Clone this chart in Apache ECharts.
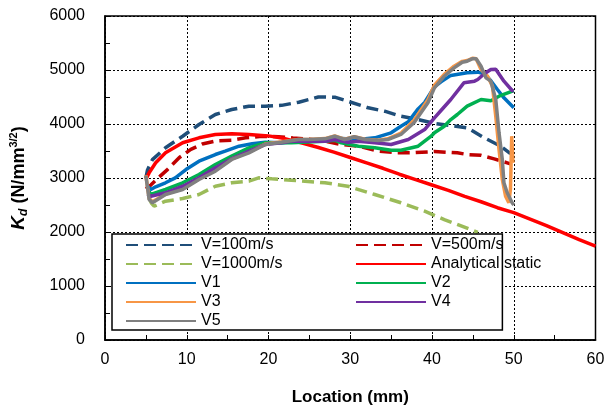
<!DOCTYPE html>
<html>
<head>
<meta charset="utf-8">
<script src="https://cdn.jsdelivr.net/npm/echarts@6/dist/echarts.min.js"></script>
<style>
html,body{margin:0;padding:0;background:#fff;}
#chart{width:608px;height:412px;}
</style>
</head>
<body>
<div id="chart"></div>
<script>
// ---------- data ----------
var xTicks = [0, 10, 20, 30, 40, 50, 60];
var yTicks = [0, 1000, 2000, 3000, 4000, 5000, 6000];

var seriesNames = ['V=100m/s', 'V=500m/s', 'V=1000m/s', 'Analytical static', 'V1', 'V2', 'V3', 'V4', 'V5'];

var v100 = [[5,3000],[5.2,3150],[5.8,3340],[7.4,3560],[9.5,3774],[11.5,3991],[13.5,4176],[15.5,4268],[17.6,4330],[19.6,4330],[21.6,4345],[23.7,4404],[26.1,4500],[28.1,4497],[29.7,4422],[32.2,4300],[34.2,4237],[36.2,4144],[38.3,4083],[40.3,4009],[42.3,3972],[44.3,3930],[46.4,3744],[48.4,3589],[49.6,3450]];

var v500 = [[5,2800],[5.6,2870],[6.5,3000],[7.6,3150],[9.1,3380],[10.5,3530],[11.9,3630],[13.7,3690],[15.5,3700],[17.2,3744],[19.2,3774],[21.2,3763],[23,3740],[25,3720],[27,3680],[28.9,3620],[31,3589],[33.4,3500],[35.8,3466],[38,3470],[40.3,3490],[43.1,3466],[44.3,3435],[46,3420],[47.6,3355],[49.2,3281],[49.6,3260]];

// visible part only (the rest is hidden behind the legend in the reference)
var v1000 = [[5.4,2620],[5.7,2530],[6,2478],[7.4,2570],[9.5,2620],[11.5,2694],[13.5,2848],[15.5,2911],[17.6,2941],[18.8,3003],[20.4,2985],[22.8,2960],[26.9,2911],[29.7,2848],[33,2694],[36.2,2541],[39.1,2385],[41.5,2231],[45.6,1995]];

var analytical = [[5,2980],[5.4,3096],[6.2,3281],[7.4,3466],[9.5,3652],[11.5,3744],[13.5,3806],[15.5,3818],[17.6,3806],[20,3780],[22,3730],[24,3650],[26,3570],[28,3480],[30,3380],[32,3280],[34,3180],[36,3070],[38,2970],[40,2870],[42,2770],[44,2660],[46,2560],[48,2450],[50,2360],[52,2240],[54,2120],[56,1990],[58,1860],[60,1740]];

var v1 = [[5.2,2850],[5.6,2787],[6.2,2837],[7.4,2911],[8.6,3003],[9.9,3157],[11.5,3311],[13.5,3435],[14.7,3496],[16.4,3589],[18,3633],[19.6,3663],[21.6,3652],[23.7,3680],[26.9,3700],[29,3730],[31,3713],[33,3744],[35,3837],[36.2,3959],[37.1,4040],[38.3,4280],[39.1,4400],[40.3,4690],[41.1,4780],[42.3,4900],[44.3,4948],[45.6,4960],[46.4,4930],[47.2,4800],[48,4639],[48.8,4485],[50,4300]];

var v2 = [[5.4,2750],[5.6,2694],[7.4,2787],[9.5,2911],[11.5,3065],[13.5,3250],[15.5,3404],[17.6,3559],[19.6,3652],[21.6,3652],[22.8,3651],[26.9,3681],[28.1,3700],[28.9,3651],[31,3589],[33,3559],[35,3515],[36.2,3515],[38.3,3589],[39.9,3774],[40.3,3837],[41.5,3959],[42.3,4083],[43.1,4176],[44.3,4330],[46,4454],[47.2,4430],[48.2,4515],[50,4620]];

var v3 = [[5,3050],[5.4,2620],[5.8,2560],[7.4,2700],[9.5,2800],[11.5,2985],[13.5,3140],[15.5,3355],[17.6,3480],[19.6,3630],[21.6,3670],[23.7,3715],[24.9,3715],[26.9,3730],[28.1,3780],[29.3,3720],[30.5,3765],[31.8,3720],[33.4,3700],[34.6,3725],[36.2,3830],[37.8,4070],[39.5,4450],[40.3,4720],[41.5,4920],[42.7,5070],[43.7,5160],[44.3,5175],[45,5220],[45.4,5210],[46,5010],[46.8,4885],[47.4,4700],[47.8,4144],[48.2,3528],[48.6,2972],[49,2663],[49.4,2541],[49.6,2800],[49.75,3774],[49.9,3281]];

var v4 = [[5.2,2700],[5.6,2663],[7.4,2726],[9.5,2848],[11.5,3003],[13.5,3189],[15.5,3355],[17.6,3496],[19.6,3620],[21.6,3652],[22.8,3681],[26.9,3681],[28.1,3713],[29.7,3663],[31,3681],[33,3652],[35,3620],[37.1,3713],[39.1,3898],[40.3,4114],[41.1,4250],[42.3,4454],[43.9,4763],[45.2,4793],[45.6,4824],[46.4,4930],[47.2,5009],[47.8,5015],[48.8,4793],[49.8,4620],[50,4610]];

var v5 = [[5,3040],[5.4,2600],[5.8,2540],[7.4,2694],[9.5,2787],[11.5,2972],[13.5,3126],[15.5,3343],[17.6,3466],[19.6,3620],[21.6,3663],[23.7,3713],[24.9,3713],[26.9,3725],[28.1,3774],[29.3,3713],[30.5,3763],[31.8,3713],[33.4,3694],[34.6,3713],[36.2,3806],[37.8,4022],[39.5,4393],[40.3,4670],[41.5,4885],[42.7,5040],[43.7,5144],[44.3,5163],[44.9,5207],[45.4,5207],[46,5070],[46.6,4855],[47.2,4793],[47.8,4454],[48.2,3837],[48.6,3343],[48.8,2911],[49.2,2726],[49.8,2541],[50,2500]];

// ---------- chart ----------
var FONT = '"Liberation Sans", Arial, sans-serif';
var dash = [12, 6];
function mk(name, data, color, width, type) {
  return {
    name: name, type: 'line', data: data, symbol: 'none', showSymbol: false, smooth: false,
    z: 2, zlevel: 0,
    lineStyle: { color: color, width: width, type: type, cap: 'butt' },
    itemStyle: { color: color },
    emphasis: { disabled: true }
  };
}

var legendText = { fontFamily: FONT, fontSize: 16, color: '#000', width: 150, overflow: 'none' };

var chart = echarts.init(document.getElementById('chart'), null, { renderer: 'canvas' });
var option = {
  animation: false,
  backgroundColor: '#fff',
  textStyle: { fontFamily: FONT },
  grid: { left: 102, right: 12.5, top: 16, bottom: 72, show: true, borderColor: '#000', borderWidth: 1.5, backgroundColor: 'transparent' },
  xAxis: {
    type: 'value', min: xTicks[0], max: xTicks[xTicks.length - 1], interval: 10,
    name: 'Location (mm)', nameLocation: 'middle', nameGap: 49,
    nameTextStyle: { fontFamily: FONT, fontSize: 17, fontWeight: 'bold', color: '#000' },
    axisLine: { lineStyle: { color: '#000', width: 1.5 } },
    axisTick: { inside: true, length: 5, lineStyle: { color: '#000' } },
    minorTick: { show: true, splitNumber: 2, length: 5, lineStyle: { color: '#000' } },
    axisLabel: { fontFamily: FONT, fontSize: 16, color: '#000', margin: 12, formatter: function (v) { return String(v); } },
    splitLine: { show: true, lineStyle: { color: '#000', type: [2, 2], width: 1 } }
  },
  yAxis: {
    type: 'value', min: yTicks[0], max: yTicks[yTicks.length - 1], interval: 1000,
    name: '{k|K}{d|d}{t| (N/mm}{s|3/2}{t|)}', nameLocation: 'middle', nameGap: 75,
    nameTextStyle: {
      fontFamily: FONT, fontSize: 18, fontWeight: 'bold', color: '#000',
      rich: {
        k: { fontFamily: FONT, fontSize: 19, fontWeight: 'bold', fontStyle: 'italic', color: '#000', lineHeight: 22, verticalAlign: 'middle' },
        d: { fontFamily: FONT, fontSize: 12, fontWeight: 'bold', fontStyle: 'italic', color: '#000', lineHeight: 12, verticalAlign: 'bottom' },
        t: { fontFamily: FONT, fontSize: 18, fontWeight: 'bold', color: '#000', lineHeight: 22, verticalAlign: 'middle' },
        s: { fontFamily: FONT, fontSize: 11, fontWeight: 'bold', color: '#000', lineHeight: 11, verticalAlign: 'top' }
      }
    },
    axisLine: { lineStyle: { color: '#000', width: 1.5 } },
    axisTick: { inside: true, length: 5, lineStyle: { color: '#000' } },
    minorTick: { show: true, splitNumber: 2, length: 5, lineStyle: { color: '#000' } },
    axisLabel: { fontFamily: FONT, fontSize: 16, color: '#000', margin: 20, formatter: function (v) { return String(v); } },
    splitLine: { show: true, lineStyle: { color: '#000', type: [2, 2], width: 1 } }
  },
  legend: [
    {
      data: [seriesNames[0], seriesNames[2], seriesNames[4], seriesNames[6], seriesNames[8]],
      orient: 'vertical', left: 112, top: 234, padding: [3, 220, 1, 13], itemGap: 3,
      itemWidth: 70, itemHeight: 14, selectedMode: false, zlevel: 1, z: 4,
      backgroundColor: '#fff', borderColor: '#000', borderWidth: 1.5, borderRadius: 0,
      itemStyle: { opacity: 0 },
      textStyle: legendText
    },
    {
      data: [seriesNames[1], seriesNames[3], seriesNames[5], seriesNames[7]],
      orient: 'vertical', left: 355, top: 237, padding: 0, itemGap: 3,
      itemWidth: 70, itemHeight: 14, selectedMode: false, zlevel: 1, z: 6,
      itemStyle: { opacity: 0 },
      textStyle: legendText
    }
  ],
  series: [
    mk(seriesNames[0], v100, '#1F4E79', 3.5, dash),
    mk(seriesNames[1], v500, '#C00000', 3.5, dash),
    mk(seriesNames[2], v1000, '#9BBB59', 3.5, dash),
    mk(seriesNames[3], analytical, '#FF0000', 3.5, 'solid'),
    mk(seriesNames[4], v1, '#0070C0', 3.5, 'solid'),
    mk(seriesNames[5], v2, '#00B050', 3.5, 'solid'),
    mk(seriesNames[6], v3, '#F79646', 3.5, 'solid'),
    mk(seriesNames[7], v4, '#7030A0', 3.5, 'solid'),
    mk(seriesNames[8], v5, '#808080', 3.5, 'solid')
  ]
};
chart.setOption(option);
</script>
</body>
</html>
